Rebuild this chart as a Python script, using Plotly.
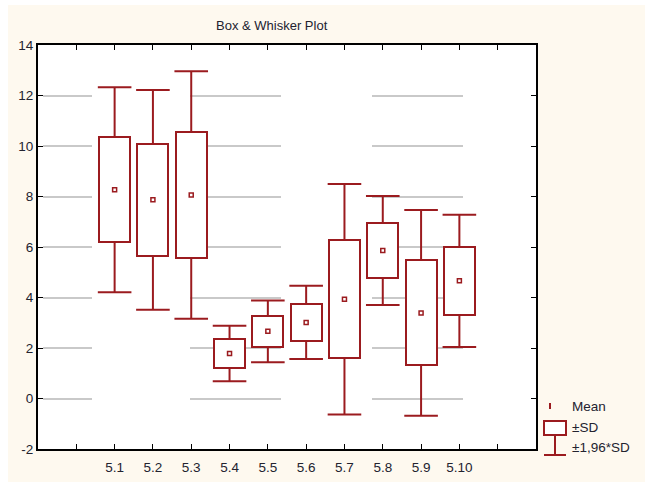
import plotly.graph_objects as go

# Groups and their summary statistics
groups = ["5.1", "5.2", "5.3", "5.4", "5.5", "5.6", "5.7", "5.8", "5.9", "5.10"]
means = [8.27, 7.87, 8.06, 1.78, 2.66, 3.01, 3.93, 5.86, 3.39, 4.66]
sds = [2.07, 2.22, 2.50, 0.56, 0.625, 0.74, 2.33, 1.10, 2.08, 1.335]
y_ticks = [-2, 0, 2, 4, 6, 8, 10, 12, 14]
y_tick_text = ["-2", "0", "2", "4", "6", "8", "10", "12", "14"]

RED = "#9b1b1f"
INK = "#23232f"
CREAM = "#fef9ef"
FONT = "Liberation Sans, Arial, sans-serif"

W, H = 645, 482
L, R, T, B = 38, 109, 45, 33
plot_w, plot_h = W - L - R, H - T - B

# x positions: groups sit on ticks 2..11, empty ticks at 1 and 12
xpos = [i + 2 for i in range(len(groups))]
tick_vals = list(range(1, 13))
tick_text = [""] + groups + [""]

lo_sd = [m - s for m, s in zip(means, sds)]
hi_sd = [m + s for m, s in zip(means, sds)]
lo_ci = [m - 1.96 * s for m, s in zip(means, sds)]
hi_ci = [m + 1.96 * s for m, s in zip(means, sds)]


def px_x(p):
    return (p - L) / plot_w


def px_y(p):
    return (H - B - p) / plot_h


fig = go.Figure()

# whisker stems: from each box edge out to mean ± 1.96*SD
wx, wy = [], []
for x, a, b, c, d in zip(xpos, hi_sd, hi_ci, lo_sd, lo_ci):
    wx += [x, x, None, x, x, None]
    wy += [a, b, None, c, d, None]
fig.add_trace(go.Scatter(
    x=wx, y=wy, mode="lines",
    line=dict(color=RED, width=2),
    hoverinfo="skip", showlegend=False,
))

# ±SD boxes
fig.add_trace(go.Bar(
    x=xpos,
    base=lo_sd,
    y=[h - l for h, l in zip(hi_sd, lo_sd)],
    width=0.81,
    marker=dict(color="white", line=dict(color=RED, width=2)),
    hoverinfo="skip", showlegend=False,
))

# whisker caps
fig.add_trace(go.Scatter(
    x=xpos + xpos, y=hi_ci + lo_ci, mode="markers",
    marker=dict(symbol="line-ew", size=24, color=RED, line=dict(color=RED, width=2)),
    hoverinfo="skip", showlegend=False,
))

# means
fig.add_trace(go.Scatter(
    x=xpos,
    y=means,
    mode="markers",
    marker=dict(symbol="square-open", size=4, color=RED, line=dict(color=RED, width=1.5)),
    hoverinfo="skip",
    showlegend=False,
))

shapes = [
    # cream page panel and white plotting area
    dict(type="rect", xref="paper", yref="paper", layer="below",
         x0=px_x(8), x1=px_x(W + 2), y0=px_y(H + 2), y1=px_y(5),
         fillcolor=CREAM, line=dict(width=0)),
    dict(type="rect", xref="paper", yref="paper", layer="below",
         x0=0, x1=1, y0=0, y1=1, fillcolor="white", line=dict(width=0)),
    # legend glyphs
    dict(type="line", xref="paper", yref="paper",
         x0=px_x(550), x1=px_x(550), y0=px_y(403), y1=px_y(409),
         line=dict(color=RED, width=2)),
    dict(type="rect", xref="paper", yref="paper",
         x0=px_x(544), x1=px_x(566), y0=px_y(435), y1=px_y(421),
         line=dict(color=RED, width=2), fillcolor="white"),
    dict(type="line", xref="paper", yref="paper",
         x0=px_x(555), x1=px_x(555), y0=px_y(435), y1=px_y(455),
         line=dict(color=RED, width=2)),
    dict(type="line", xref="paper", yref="paper",
         x0=px_x(544), x1=px_x(566), y0=px_y(455), y1=px_y(455),
         line=dict(color=RED, width=2)),
]

annotations = [
    dict(text="Box & Whisker Plot", xref="paper", yref="paper",
         x=px_x(272), y=px_y(26), xanchor="center", yanchor="middle",
         showarrow=False, font=dict(family=FONT, size=13, color=INK)),
]
for label, ypx in [("Mean", 406), ("±SD", 427), ("±1,96*SD", 447)]:
    annotations.append(dict(text=label, xref="paper", yref="paper",
                            x=px_x(570), y=px_y(ypx), xanchor="left", yanchor="middle",
                            showarrow=False, font=dict(family=FONT, size=13.5, color=INK)))

fig.update_layout(
    width=W, height=H,
    margin=dict(l=L, r=R, t=T, b=B, pad=0),
    paper_bgcolor="white",
    plot_bgcolor="white",
    showlegend=False,
    bargap=0,
    shapes=shapes,
    annotations=annotations,
    font=dict(family=FONT, size=13.5, color=INK),
    xaxis=dict(
        range=[0, 13], tickmode="array", tickvals=tick_vals, ticktext=tick_text,
        ticks="inside", ticklen=5, tickwidth=1.3, tickcolor="black",
        ticklabelstandoff=5, automargin=False,
        showline=True, linecolor="black", linewidth=2, mirror="ticks",
        showgrid=False, zeroline=False, fixedrange=True,
    ),
    yaxis=dict(
        range=[-2, 14], tickmode="array", tickvals=y_ticks, ticktext=y_tick_text,
        ticks="inside", ticklen=5, tickwidth=1.3, tickcolor="black",
        automargin=False,
        showline=True, linecolor="black", linewidth=2, mirror="ticks",
        showgrid=True, gridcolor="#c9c9c9", gridwidth=1.5,
        griddash="0px,5px,49px,98px,91px,91px,91px,400px",
        zeroline=False, fixedrange=True,
    ),
)

fig.write_html("out.html")
